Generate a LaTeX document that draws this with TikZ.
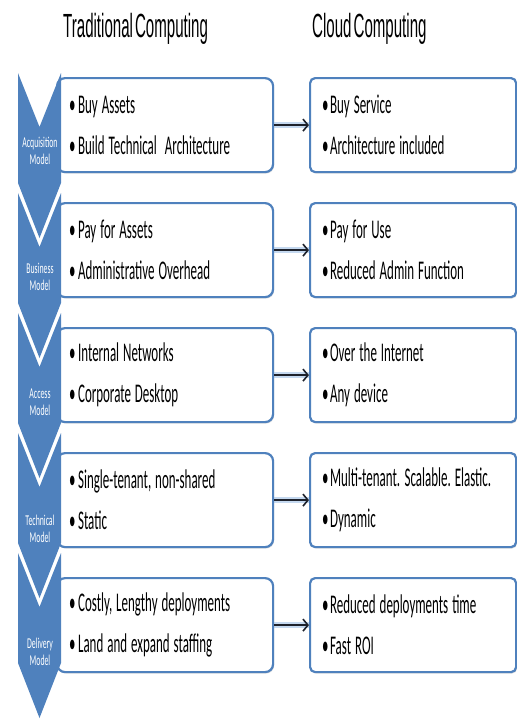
\documentclass[tikz,border=0pt]{standalone}
\usepackage{fontspec}
\usetikzlibrary{arrows.meta,shadows}
\newfontfamily\bodyfont[FakeStretch=0.48]{Carlito}
\newfontfamily\tagfont[FakeStretch=0.52]{Carlito}
\newfontfamily\headfont[FakeStretch=0.45,WordSpace=0.5]{Liberation Sans}
\definecolor{chev}{RGB}{79,129,189}
\definecolor{glow}{RGB}{150,186,228}
\definecolor{ink}{RGB}{30,34,44}
% condensed body text: keep word gaps narrow as well
\newcommand{\bodysize}{\bodyfont\fontsize{27}{41}\selectfont
  \spaceskip=4pt plus 0.5pt\xspaceskip=4.5pt plus 0.5pt}

\tikzset{
  tradbox/.style={draw=chev, line width=2.2pt, rounded corners=8pt, fill=white,
    minimum width=216pt, minimum height=94pt, anchor=north west,
    text width=192pt, align=flush left, font=\bodysize,
    drop shadow={opacity=0.25, shadow xshift=1pt, shadow yshift=-1.5pt}},
  cloudbox/.style={tradbox, rounded corners=5pt, minimum width=206pt, text width=182pt},
  chevron/.style={fill=chev, draw=none},
  chevtag/.style={text=white, align=center, inner sep=0pt,
    font=\tagfont\fontsize{15}{17}\selectfont},
  heading/.style={anchor=base west, inner sep=0pt, text=black,
    font=\headfont\fontsize{33.5}{40}\selectfont},
  flowglow/.style={glow, opacity=0.55, line width=6pt},
  flow/.style={ink, line width=2pt,
    -{Straight Barb[length=5pt,width=12pt,line width=1.6pt]}},
}
\newcommand{\bl}[1]{\makebox[9pt][l]{•}#1}
\newcommand{\cbl}[1]{\makebox[8pt][l]{•}#1}

\begin{document}
\begin{tikzpicture}[x=1pt,y=-1pt]
\useasboundingbox (0,0) rectangle (517,724);

% column headings
\node[heading] (hTrad) at (63,37) {Traditional Computing};
\node[heading] (hCloud) at (312,37) {Cloud Computing};

% traditional computing boxes
\node[tradbox] (L1) at (56,77)  {\bl{Buy Assets}\\\bl{Build Technical\ \ Architecture}};
\node[tradbox] (L2) at (56,202) {\bl{Pay for Assets}\\\bl{Administrative Overhead}};
\node[tradbox] (L3) at (56,327) {\bl{Internal Networks}\\\bl{Corporate Desktop}};
\node[tradbox] (L4) at (56,452) {\bl{Single-tenant, non-shared}\\\bl{Static}};
\node[tradbox] (L5) at (56,577) {\bl{Costly, Lengthy deployments}\\\bl{Land and expand staffing}};

% cloud computing boxes
\node[cloudbox] (C1) at (309,77)  {\cbl{Buy Service}\\\cbl{Architecture included}};
\node[cloudbox] (C2) at (309,202) {\cbl{Pay for Use}\\\cbl{Reduced Admin Function}};
\node[cloudbox] (C3) at (309,327) {\cbl{Over the Internet}\\\cbl{Any device}};
\node[cloudbox] (C4) at (309,452) {\cbl{Multi-tenant. Scalable.\ Elastic.}\\\cbl{Dynamic}};
\node[cloudbox] (C5) at (309,577) {\cbl{Reduced deployments time}\\\cbl{Fast ROI}};

% chevrons down the left side
\foreach \t in {73,193,313,433,553}{
  \fill[chevron] (18,\t) -- (39.5,\t+54) -- (61,\t) -- (61,\t+110)
    -- (39.5,\t+165) -- (18,\t+110) -- cycle;
}

% chevron captions
\node[chevtag] (m1) at (40,151) {Acquisition\\Model};
\node[chevtag] (m2) at (40,277) {Business\\Model};
\node[chevtag] (m3) at (40,402) {Access\\Model};
\node[chevtag] (m4) at (40,529) {Technical\\Model};
\node[chevtag] (m5) at (40,652) {Delivery\\Model};

% connectors from traditional to cloud
\foreach \i in {1,...,5}{
  \draw[flowglow] (L\i.east) -- (L\i.east -| C\i.west);
  \draw[flow] (L\i.east) -- (L\i.east -| C\i.west);
}
\end{tikzpicture}
\end{document}
